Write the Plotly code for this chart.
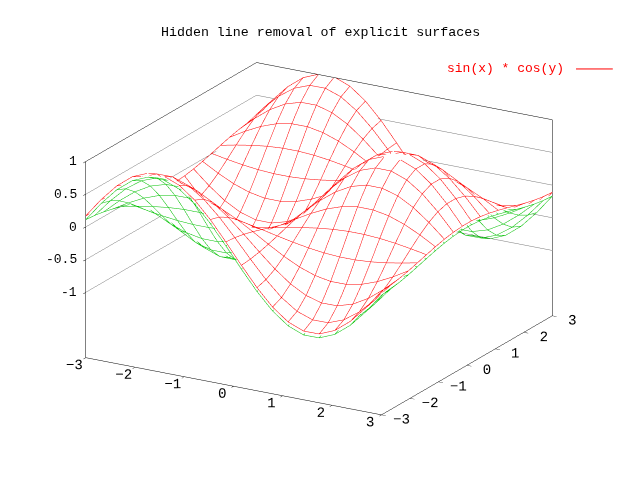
import plotly.graph_objects as go
import numpy as np

# 20 x 20 isosamples over [-3, 3]
xs = [-3.0, -2.6842, -2.3684, -2.0526, -1.7368, -1.4211, -1.1053, -0.7895, -0.4737, -0.1579,
      0.1579, 0.4737, 0.7895, 1.1053, 1.4211, 1.7368, 2.0526, 2.3684, 2.6842, 3.0]
ys = [-3.0, -2.6842, -2.3684, -2.0526, -1.7368, -1.4211, -1.1053, -0.7895, -0.4737, -0.1579,
      0.1579, 0.4737, 0.7895, 1.1053, 1.4211, 1.7368, 2.0526, 2.3684, 2.6842, 3.0]
# sin(x) at the x samples, cos(y) at the y samples
sin_x = [-0.1411, -0.4416, -0.6983, -0.8862, -0.9863, -0.9888, -0.8936, -0.7101, -0.4562, -0.1572,
         0.1572, 0.4562, 0.7101, 0.8936, 0.9888, 0.9863, 0.8862, 0.6983, 0.4416, 0.1411]
cos_y = [-0.9900, -0.8972, -0.7157, -0.4634, -0.1652, 0.1491, 0.4489, 0.7042, 0.8899, 0.9876,
         0.9876, 0.8899, 0.7042, 0.4489, 0.1491, -0.1652, -0.4634, -0.7157, -0.8972, -0.9900]

x_ticks = [-3, -2, -1, 0, 1, 2, 3]
y_ticks = [-3, -2, -1, 0, 1, 2, 3]
z_ticks = [-1, -0.5, 0, 0.5, 1]
z_labels = ['-1', '-0.5', '0', '0.5', '1']

title_text = 'Hidden line removal of explicit surfaces'
key_text = 'sin(x) * cos(y)'

mono = 'Liberation Mono'

# z[j][i] = sin(x_i) * cos(y_j)
z = np.outer(cos_y, sin_x)
eps = 0.03


def wire(zz, col):
    lx, ly, lz = [], [], []
    for i in range(len(xs)):
        for j in range(len(ys)):
            lx.append(xs[i]); ly.append(ys[j]); lz.append(zz[j][i])
        lx.append(None); ly.append(None); lz.append(None)
    for j in range(len(ys)):
        for i in range(len(xs)):
            lx.append(xs[i]); ly.append(ys[j]); lz.append(zz[j][i])
        lx.append(None); ly.append(None); lz.append(None)
    return go.Scatter3d(x=lx, y=ly, z=lz, mode='lines', line=dict(color=col, width=1),
                        hoverinfo='skip', connectgaps=False)


fig = go.Figure()
# white surface in the middle hides whichever wire is behind it
fig.add_trace(go.Surface(x=xs, y=ys, z=z, colorscale=[[0, 'white'], [1, 'white']], showscale=False,
                         lighting=dict(ambient=1, diffuse=0, specular=0, fresnel=0, roughness=1),
                         hoverinfo='skip'))
fig.add_trace(wire(z + eps, '#ff0000'))   # top side
fig.add_trace(wire(z - eps, '#00c000'))   # under side

ax = dict(showbackground=False, showgrid=False, zeroline=False, showspikes=False,
          showline=True, linecolor='black', linewidth=1, mirror=True,
          ticks='inside', ticklen=5, tickcolor='black', title=dict(text=''), tickangle=0,
          tickfont=dict(family=mono, size=13, color='black'))

# z labels right-aligned next to the left vertical edge
z_notes = [dict(x=-3, y=-3, z=v, text=t, showarrow=False, xanchor='right', yanchor='middle',
                xshift=-7, font=dict(family=mono, size=13, color='black'))
           for v, t in zip(z_ticks, z_labels)]

e = np.radians(19.4)
phi = np.radians(-60)
fig.update_layout(
    width=640, height=480,
    paper_bgcolor='white', plot_bgcolor='white',
    margin=dict(l=0, r=0, t=0, b=0),
    showlegend=False,
    scene=dict(
        domain=dict(x=[0, 0.972], y=[0.033, 1]),
        xaxis=dict(ax, range=[-3, 3], tickvals=x_ticks),
        yaxis=dict(ax, range=[-3, 3], tickvals=y_ticks),
        zaxis=dict(ax, range=[-2, 1], tickvals=z_ticks, showticklabels=False,
                   showgrid=True, gridcolor='#777777', gridwidth=1),
        aspectmode='manual', aspectratio=dict(x=1.472, y=1.472, z=0.897),
        camera=dict(projection=dict(type='orthographic'),
                    eye=dict(x=2 * np.cos(e) * np.cos(phi), y=2 * np.cos(e) * np.sin(phi), z=2 * np.sin(e)),
                    up=dict(x=0, y=0, z=1), center=dict(x=0, y=0, z=-0.006)),
        annotations=z_notes,
    ),
    annotations=[
        dict(text=title_text, x=0.4875, y=0.948, xref='paper', yref='paper',
             xanchor='center', yanchor='middle', showarrow=False,
             font=dict(family=mono, size=13.3, color='black')),
        dict(text=key_text, x=0.872, y=0.873, xref='paper', yref='paper',
             xanchor='right', yanchor='middle', showarrow=False,
             font=dict(family=mono, size=13, color='#ff0000')),
    ],
    shapes=[dict(type='line', xref='paper', yref='paper', x0=0.8875, x1=0.945, y0=0.873, y1=0.873,
                 line=dict(color='#ff0000', width=1))],
)

fig.write_html('out.html')
